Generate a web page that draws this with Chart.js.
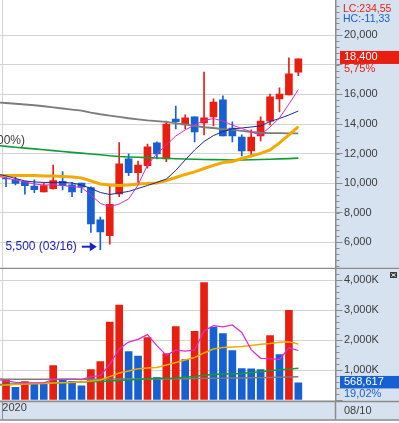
<!DOCTYPE html>
<html>
<head>
<meta charset="utf-8">
<script src="https://cdn.jsdelivr.net/npm/chart.js@4.4.1/dist/chart.umd.min.js"></script>
<style>
  html, body { margin: 0; padding: 0; background: #fff; }
  #wrap { position: relative; width: 399px; height: 423px; overflow: hidden; }
  canvas { position: absolute; left: 0; }
  #price { top: 0; }
  #volume { top: 269px; }
</style>
</head>
<body>
<div id="wrap">
  <canvas id="price" width="399" height="269"></canvas>
  <canvas id="volume" width="399" height="154"></canvas>
</div>
<script>
// weekly candles, 2020
const weeks = ['01/06', '01/13', '01/20', '01/27', '02/03', '02/10', '02/17', '02/24', '03/02', '03/09',
  '03/16', '03/23', '03/30', '04/06', '04/13', '04/20', '04/27', '05/04', '05/11', '05/18', '05/25',
  '06/01', '06/08', '06/15', '06/22', '06/29', '07/06', '07/13', '07/20', '07/27', '08/03', '08/10'];
const opens = [10350, 10220, 10100, 9810, 9400, 9630, 10130, 9880, 10000, 9700, 7520, 6450, 9270, 11640,
  10710, 11180, 12720, 11640, 14340, 13940, 14480, 14070, 14480, 15630, 13730, 13120, 12180, 13190,
  14200, 15700, 15970, 17500];
const highs = [10440, 10440, 10120, 10220, 10000, 11230, 10780, 10060, 10000, 9750, 7700, 9810, 12740, 11980,
  11500, 12650, 12790, 14200, 15220, 14620, 14480, 17520, 15700, 15900, 14140, 13260, 13600, 14480,
  16030, 16440, 18470, 18400];
const lows = [9760, 9880, 9250, 9360, 9400, 9590, 9550, 9090, 9360, 6660, 5500, 5870, 9090, 10510,
  9950, 11010, 11640, 11450, 13670, 13670, 12790, 13260, 13870, 13190, 12790, 11840, 11910, 12860,
  13940, 14810, 15970, 17270];
const closes = [10290, 9990, 9830, 9560, 9840, 10170, 9830, 9410, 9730, 7240, 6700, 8570, 11300, 10710,
  11230, 12450, 11980, 14000, 14160, 14410, 13460, 14410, 15490, 13190, 13190, 12180, 13120, 14200,
  15830, 16030, 17400, 18400];
// volume in thousand shares
const volumes = [680, 420, 610, 530, 525, 1145, 680, 610, 475, 1010, 1280, 2595, 3160, 1615, 1460, 2080,
  745, 1545, 2450, 1345, 2285, 3910, 2430, 2215, 1645, 1045, 1040, 1010, 2150, 1515, 2989.6, 568.617];

// moving averages, first value is the week before 01/06
const ma5 = [10490, 10350, 10210, 10080, 9940, 9880, 9880, 9840, 9770, 9710, 9200, 8630, 8420, 8590, 8930,
  9880, 11230, 12010, 12580, 13190, 13600, 13930, 14240, 14370, 14200, 13930, 13700, 13460, 13260, 13800,
  14410, 15350, 16330];
const ma10 = [10620, 10490, 10320, 10150, 10080, 10050, 10050, 10050, 10010, 9880, 9640, 9370, 9230, 9340,
  9440, 9640, 9840, 10050, 10280, 10860, 11570, 12240, 12820, 13220, 13490, 13660, 13730, 13800, 13870,
  14170, 14370, 14610, 14880];
const ma20 = [10520, 10520, 10520, 10520, 10520, 10490, 10490, 10450, 10420, 10350, 10150, 9940, 9880, 9840,
  9880, 9940, 9980, 10010, 10180, 10380, 10590, 10760, 10990, 11200, 11400, 11470, 11670, 11840, 12010,
  12240, 12720, 13260, 13830];
const ma60 = [12550, 12490, 12430, 12370, 12320, 12260, 12200, 12140, 12080, 12030, 11970, 11920, 11850,
  11800, 11770, 11750, 11730, 11700, 11680, 11650, 11630, 11620, 11600, 11590, 11580, 11570, 11570, 11580,
  11600, 11620, 11640, 11660, 11690];
const ma120 = [15470, 15420, 15370, 15320, 15270, 15200, 15120, 15050, 14980, 14910, 14770, 14660, 14570,
  14480, 14390, 14320, 14250, 14200, 14140, 14050, 13970, 13870, 13780, 13730, 13660, 13600, 13530, 13460,
  13410, 13390, 13380, 13370, 13370];
const vma5 = [690, 640, 590, 575, 575, 575, 680, 700, 700, 680, 780, 810, 1190, 1700, 1930, 2020, 2180, 1810,
  1490, 1660, 1630, 1670, 2300, 2480, 2440, 2500, 2250, 1680, 1390, 1380, 1350, 1740, 1650];
const vma20 = [483, 500, 517, 533, 543, 550, 567, 577, 583, 600, 633, 667, 777, 900, 967, 1043, 1067, 1083,
  1167, 1250, 1333, 1417, 1567, 1700, 1750, 1767, 1783, 1817, 1857, 1883, 1923, 1943, 1867];
const vma60 = [517, 523, 533, 540, 550, 557, 567, 577, 590, 600, 610, 617, 633, 650, 667, 683, 707, 723, 723,
  733, 757, 783, 823, 850, 867, 873, 883, 917, 943, 973, 1007, 1027, 1057];
const vma120 = [700, 695, 690, 690, 690, 690, 690, 690, 690, 690, 690, 690, 695, 700, 700, 700, 700, 700, 700,
  705, 710, 715, 720, 725, 730, 735, 735, 740, 745, 750, 760, 765, 775];

const priceTicks = [6000, 8000, 10000, 12000, 14000, 16000, 18000, 20000];
const volumeTicks = [0, 1000, 2000, 3000, 4000];
const yearMarks = [-0.39];
const yearLabels = ['2020'];

const RED = '#e81e10', BLUE = '#1660d2';
const PANEL = '#d6e2f0', GRID = '#d4d4d4', AXIS = '#8c8c8c', TEXT = '#3c3c3c';
const FONT = '"Liberation Sans", Arial, sans-serif';

Chart.defaults.font.family = FONT;
Chart.defaults.animation = false;

const fmt = v => Math.round(v).toLocaleString('en-US');
const pct = (a, b) => ((a / b - 1) * 100).toFixed(2).replace('.', ',') + '%';
const ratio = (a, b) => (a / b * 100).toFixed(2).replace('.', ',') + '%';
const idx = weeks.map((w, i) => i);
const pts = arr => arr.map((v, i) => ({ x: i - 1, y: v }));
const candleColor = idx.map(i => closes[i] >= opens[i] ? RED : BLUE);
const volColor = idx.map(i => i === 0 || volumes[i] > volumes[i - 1] ? RED : BLUE);
const lastClose = closes[closes.length - 1];

function line(data, color, width, order) {
  return { type: 'line', data: pts(data), borderColor: color, borderWidth: width,
    pointRadius: 0, tension: 0, order: order };
}

function noPad(s) {
  s.paddingTop = 0; s.paddingBottom = 0; s.paddingLeft = 0; s.paddingRight = 0;
}

// small ticks along the right axis
function minorTicks(chart, step) {
  const s = chart.scales.y, ctx = chart.ctx;
  ctx.save();
  ctx.strokeStyle = AXIS;
  ctx.lineWidth = 1;
  ctx.beginPath();
  for (let v = Math.ceil(s.min / step) * step; v <= s.max; v += step) {
    const y = Math.round(s.getPixelForValue(v)) + 0.5;
    ctx.moveTo(s.left, y);
    ctx.lineTo(s.left + 4, y);
  }
  ctx.stroke();
  ctx.restore();
}

function paintBack(chart) {
  const { ctx, chartArea: a, width, height } = chart;
  ctx.save();
  ctx.fillStyle = PANEL;
  ctx.fillRect(0, 0, width, height);
  ctx.fillStyle = '#fff';
  ctx.fillRect(a.left, a.top, a.right - a.left, a.bottom - a.top);
  ctx.restore();
}

const priceDecor = {
  id: 'priceDecor',
  beforeDraw: paintBack,
  afterDraw(chart) {
    const { ctx, chartArea: a, width } = chart;
    const x = chart.scales.x, y = chart.scales.y;
    minorTicks(chart, 400);
    ctx.save();
    ctx.textBaseline = 'middle';
    ctx.textAlign = 'left';

    ctx.font = '10.5px ' + FONT;
    ctx.fillStyle = RED;
    ctx.fillText('LC:234,55', 343, 9.5);
    ctx.fillStyle = BLUE;
    ctx.fillText('HC:-11,33', 343, 19.5);

    // last price box
    const last = closes.length - 1;
    const ly = y.getPixelForValue(closes[last]);
    ctx.fillStyle = RED;
    ctx.fillRect(340, ly - 8, width - 340, 13);
    ctx.font = '11px ' + FONT;
    ctx.fillStyle = '#fff';
    ctx.fillText(fmt(closes[last]), 344, ly - 1.5);
    ctx.fillStyle = RED;
    ctx.fillText(pct(closes[last], closes[last - 1]), 344, ly + 10.5);

    ctx.fillStyle = TEXT;
    ctx.textAlign = 'right';
    ctx.font = '12px ' + FONT;
    ctx.fillText('(100%)', 25, 141);

    // lowest low marker
    const lo = lows.indexOf(Math.min(...lows));
    const tip = x.getPixelForValue(lo) - 3.5;
    const ay = y.getPixelForValue(lows[lo]) - 3;
    ctx.fillStyle = ctx.strokeStyle = '#1c22c8';
    ctx.font = '12px ' + FONT;
    ctx.fillText(fmt(lows[lo]) + ' (' + weeks[lo] + ')', tip - 20, ay);
    ctx.lineWidth = 2;
    ctx.beginPath();
    ctx.moveTo(tip - 15, ay);
    ctx.lineTo(tip - 6, ay);
    ctx.stroke();
    ctx.beginPath();
    ctx.moveTo(tip - 7, ay - 4.5);
    ctx.lineTo(tip, ay);
    ctx.lineTo(tip - 7, ay + 4.5);
    ctx.closePath();
    ctx.fill();

    // pane separator
    ctx.strokeStyle = AXIS;
    ctx.lineWidth = 1.5;
    ctx.beginPath();
    ctx.moveTo(0, a.bottom + 0.5);
    ctx.lineTo(width, a.bottom + 0.5);
    ctx.stroke();
    ctx.restore();
  }
};

const volumeDecor = {
  id: 'volumeDecor',
  beforeDraw(chart) {
    paintBack(chart);
    const { ctx, width, height } = chart;
    ctx.save();
    ctx.fillStyle = '#fff';
    ctx.fillRect(0, 151, width, height - 151);
    ctx.restore();
  },
  afterDraw(chart) {
    const { ctx, chartArea: a, width } = chart;
    const y = chart.scales.y;
    minorTicks(chart, 200);
    ctx.save();
    ctx.strokeStyle = AXIS;
    ctx.lineWidth = 1.5;
    ctx.beginPath();
    ctx.moveTo(0, a.bottom + 0.5);
    ctx.lineTo(width, a.bottom + 0.5);
    ctx.moveTo(0, 151);
    ctx.lineTo(width, 151);
    ctx.moveTo(a.right, a.bottom);
    ctx.lineTo(a.right, 151);
    ctx.stroke();

    ctx.textBaseline = 'middle';
    ctx.textAlign = 'left';
    ctx.font = '11px ' + FONT;
    ctx.fillStyle = TEXT;
    ctx.fillText(weeks[weeks.length - 1], 344, a.bottom + 9.5);

    // last volume box
    const last = volumes.length - 1;
    const vy = y.getPixelForValue(volumes[last]);
    ctx.fillStyle = BLUE;
    ctx.fillRect(340, vy - 7, width - 340, 12.5);
    ctx.fillStyle = '#fff';
    ctx.fillText(fmt(volumes[last] * 1000), 344, vy - 1);
    ctx.fillStyle = BLUE;
    ctx.fillText(ratio(volumes[last], volumes[last - 1]), 344, vy + 11.5);

    // close button
    ctx.fillStyle = '#3a3a3a';
    ctx.fillRect(390, 3, 7, 6);
    ctx.strokeStyle = '#fff';
    ctx.lineWidth = 1;
    ctx.beginPath();
    ctx.moveTo(391.5, 4.5); ctx.lineTo(395.5, 7.5);
    ctx.moveTo(395.5, 4.5); ctx.lineTo(391.5, 7.5);
    ctx.stroke();
    ctx.restore();
  }
};

const xBase = {
  type: 'linear', min: -0.64, max: 34.94, offset: false,
  afterBuildTicks: s => { s.ticks = yearMarks.map(v => ({ value: v })); }
};

new Chart(document.getElementById('price'), {
  type: 'bar',
  data: {
    datasets: [
      line(ma5, '#e02ad0', 1, 1),
      line(ma10, '#1b2a9e', 1, 2),
      line(ma20, '#f2aa00', 3, 3),
      line(ma60, '#139a38', 1.6, 4),
      line(ma120, '#7c7c7c', 1.8, 5),
      { data: idx.map(i => ({ x: i, y: [Math.min(opens[i], closes[i]), Math.max(opens[i], closes[i])] })),
        backgroundColor: candleColor, barThickness: 7, grouped: false, order: 10 },
      { data: idx.map(i => ({ x: i, y: [lows[i], highs[i]] })),
        backgroundColor: candleColor, barThickness: 1, grouped: false, order: 11 }
    ]
  },
  options: {
    responsive: false,
    layout: { padding: { left: 0, right: 0, top: 0, bottom: 1 } },
    plugins: { legend: { display: false }, tooltip: { enabled: false } },
    scales: {
      x: Object.assign({}, xBase, {
        ticks: { display: false },
        grid: { color: GRID, drawTicks: false, offset: false },
        border: { display: false },
        afterFit: s => { s.height = 0; noPad(s); }
      }),
      y: {
        position: 'right', min: 4262, max: 22387, beginAtZero: false,
        afterBuildTicks: s => { s.ticks = priceTicks.map(v => ({ value: v })); },
        afterFit: s => { s.width = 63.5; noPad(s); },
        // the label under the last-price box is hidden
        ticks: { color: TEXT, font: { size: 11 }, padding: 1.5,
          callback: v => Math.abs(v - lastClose) < 1000 ? '' : fmt(v) },
        grid: { color: GRID, tickLength: 7, tickColor: AXIS },
        border: { color: AXIS, width: 1.5 }
      }
    }
  },
  plugins: [priceDecor]
});

new Chart(document.getElementById('volume'), {
  type: 'bar',
  data: {
    datasets: [
      line(vma5, '#e02ad0', 1.2, 1),
      line(vma20, '#f2aa00', 1.4, 2),
      line(vma60, '#139a38', 1.4, 3),
      line(vma120, '#7c7c7c', 1.4, 4),
      { data: idx.map(i => ({ x: i, y: volumes[i] })),
        backgroundColor: volColor, barThickness: 7, grouped: false, order: 10 }
    ]
  },
  options: {
    responsive: false,
    layout: { padding: 0 },
    plugins: { legend: { display: false }, tooltip: { enabled: false } },
    scales: {
      x: Object.assign({}, xBase, {
        ticks: { display: true, align: 'start', padding: -18.3, color: TEXT, font: { size: 11 },
          autoSkip: false, maxRotation: 0, callback: (v, i) => yearLabels[i] },
        grid: { color: GRID, tickLength: 19, tickColor: AXIS, offset: false },
        border: { display: false },
        afterFit: s => { s.height = 22; noPad(s); }
      }),
      y: {
        position: 'right', min: -33.3, max: 4366.7, beginAtZero: false,
        afterBuildTicks: s => { s.ticks = volumeTicks.map(v => ({ value: v })); },
        afterFit: s => { s.width = 63.5; noPad(s); },
        ticks: { color: TEXT, font: { size: 11 }, padding: 1.5, callback: v => v === 0 ? '' : fmt(v) + 'K' },
        grid: { color: GRID, tickLength: 7, tickColor: AXIS },
        border: { color: AXIS, width: 1.5 }
      }
    }
  },
  plugins: [volumeDecor]
});
</script>
</body>
</html>
